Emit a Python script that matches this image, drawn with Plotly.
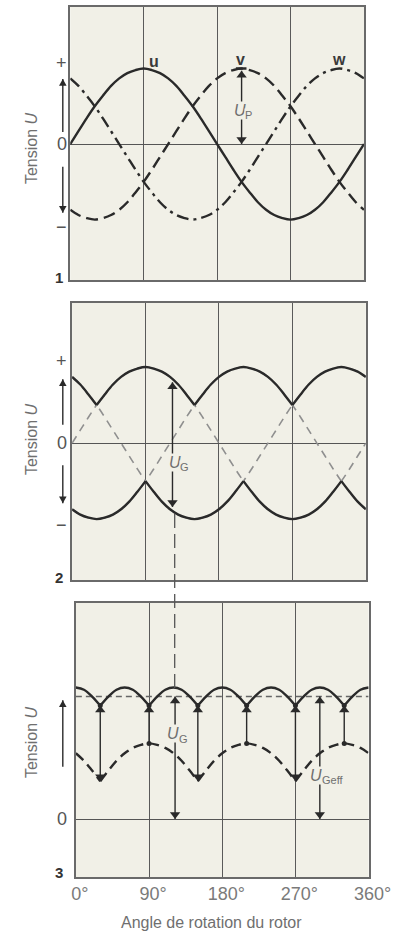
import plotly.graph_objects as go

# Rotor angle (degrees) and the three phase voltages, per unit of peak value
angles = [0, 10, 20, 30, 40, 50, 60, 70, 80, 90, 100, 110, 120, 130, 140, 150, 160, 170, 180,
          190, 200, 210, 220, 230, 240, 250, 260, 270, 280, 290, 300, 310, 320, 330, 340, 350, 360]
phase_u = [0.00, 0.17, 0.34, 0.50, 0.64, 0.77, 0.87, 0.94, 0.98, 1.00, 0.98, 0.94, 0.87, 0.77,
           0.64, 0.50, 0.34, 0.17, 0.00, -0.17, -0.34, -0.50, -0.64, -0.77, -0.87, -0.94, -0.98,
           -1.00, -0.98, -0.94, -0.87, -0.77, -0.64, -0.50, -0.34, -0.17, 0.00]
phase_v = [-0.87, -0.94, -0.98, -1.00, -0.98, -0.94, -0.87, -0.77, -0.64, -0.50, -0.34, -0.17,
           0.00, 0.17, 0.34, 0.50, 0.64, 0.77, 0.87, 0.94, 0.98, 1.00, 0.98, 0.94, 0.87, 0.77,
           0.64, 0.50, 0.34, 0.17, 0.00, -0.17, -0.34, -0.50, -0.64, -0.77, -0.87]
phase_w = [0.87, 0.77, 0.64, 0.50, 0.34, 0.17, 0.00, -0.17, -0.34, -0.50, -0.64, -0.77, -0.87,
           -0.94, -0.98, -1.00, -0.98, -0.94, -0.87, -0.77, -0.64, -0.50, -0.34, -0.17, 0.00,
           0.17, 0.34, 0.50, 0.64, 0.77, 0.87, 0.94, 0.98, 1.00, 0.98, 0.94, 0.87]
u_geff_level = 1.62
tick_vals = [0, 90, 180, 270, 360]
tick_text = ["0°", "90°", "180°", "270°", "360°"]

# Derived curves: star-point envelopes and the bridge-rectified voltage
upper = [max(a, b, c) for a, b, c in zip(phase_u, phase_v, phase_w)]
lower = [min(a, b, c) for a, b, c in zip(phase_u, phase_v, phase_w)]
rectified = [hi - lo for hi, lo in zip(upper, lower)]

upper_cusps = [30, 150, 270]
lower_cusps = [90, 210, 330]
all_cusps = [30, 90, 150, 210, 270, 330]

W, H = 414, 931
INK = "#2a2a2a"
GREY_TXT = "#6f6f6f"
PLOT_BG = "#f1f0e7"
FONT = "Liberation Sans, Arial, sans-serif"
HEAD = 9  # arrowhead marker size (px)

# Panel frames in pixels: (left, right, top, bottom) and value range
frames = {
    "1": dict(l=70, r=385, t=7, b=280, yr=[-1.80, 1.815]),
    "2": dict(l=72, r=387, t=303, b=580, yr=[-1.80, 1.842]),
    "3": dict(l=76, r=390, t=603, b=877, yr=[-0.767, 2.857]),
}
axis_ids = {"1": ("x", "y"), "2": ("x2", "y2"), "3": ("x3", "y3")}


def px_x(p):
    return p / W


def px_y(p):
    return 1 - p / H


def unit_px(panel):
    f = frames[panel]
    return (f["b"] - f["t"]) / (f["yr"][1] - f["yr"][0])


def split_at(xs, ys, breaks):
    """Insert gaps at cusp angles so each arc is smoothed on its own."""
    ox, oy = [], []
    for x, y in zip(xs, ys):
        ox.append(x)
        oy.append(y)
        if x in breaks and x not in (xs[0], xs[-1]):
            ox += [None, x]
            oy += [None, y]
    return ox, oy


fig = go.Figure()
shapes = []
annotations = []


def line(panel, x, y, color=INK, width=2.4, dash="solid", shape="spline"):
    xa, ya = axis_ids[panel]
    fig.add_trace(go.Scatter(x=x, y=y, xaxis=xa, yaxis=ya, mode="lines",
                             line=dict(color=color, width=width, dash=dash, shape=shape),
                             hoverinfo="skip", connectgaps=False))


def arrow(panel, x, y_from, y_to, heads=("end",)):
    """Vertical arrow: shaft as a shape, heads as triangle markers with tips on the ends."""
    xa, ya = axis_ids[panel]
    shapes.append(dict(type="line", xref=xa, yref=ya, x0=x, x1=x, y0=y_from, y1=y_to,
                       line=dict(color=INK, width=1.4)))
    off = (HEAD / 2) / unit_px(panel)
    hx, hy, sym = [], [], []
    for h in heads:
        tip = y_to if h == "end" else y_from
        other = y_from if h == "end" else y_to
        up = tip > other
        hx.append(x)
        hy.append(tip - off if up else tip + off)
        sym.append("triangle-up" if up else "triangle-down")
    fig.add_trace(go.Scatter(x=hx, y=hy, xaxis=xa, yaxis=ya, mode="markers",
                             hoverinfo="skip", cliponaxis=False,
                             marker=dict(symbol=sym, size=HEAD, color=INK, line_width=0)))


def side_arrow(panel, y_tip, y_tail):
    """Arrow drawn left of the frame along the value scale."""
    xa, ya = axis_ids[panel]
    x = px_x(62)
    shapes.append(dict(type="line", xref="paper", yref=ya, x0=x, x1=x, y0=y_tail, y1=y_tip,
                       line=dict(color=INK, width=1.4)))
    hh = HEAD * 0.75 / unit_px(panel)
    hw = (HEAD * 0.45) / W
    base = y_tip - hh if y_tip > y_tail else y_tip + hh
    shapes.append(dict(type="path", xref="paper", yref=ya, fillcolor=INK, line_width=0,
                       path=f"M {x - hw},{base} L {x + hw},{base} L {x},{y_tip} Z"))


def text(xref, yref, x, y, s, size=15, color=GREY_TXT, bg=None, angle=0, style="normal",
         weight="normal", xanchor="center", xshift=0, yshift=0):
    d = dict(xref=xref, yref=yref, x=x, y=y, text=s, showarrow=False, textangle=angle,
             font=dict(size=size, color=color, family=FONT, style=style, weight=weight),
             xanchor=xanchor, yanchor="middle", borderpad=0, xshift=xshift, yshift=yshift)
    if bg:
        d["bgcolor"] = bg
    annotations.append(d)


def symbol_label(xref, yref, x, y, sub, size=16):
    """Italic U with a smaller upright index, centred on (x, y)."""
    sub_size = round(size * 0.68)
    w_main = size * 0.72
    w_sub = len(sub) * sub_size * 0.58
    left = -(w_main + w_sub) / 2
    text(xref, yref, x, y, "U", size=size, bg=PLOT_BG, style="italic", xanchor="left",
         xshift=left)
    text(xref, yref, x, y, sub, size=sub_size, bg=PLOT_BG, xanchor="left",
         xshift=left + w_main, yshift=-5)


# ---- Panel 1: three phase voltages
line("1", angles, phase_v, dash="12px,6px")
line("1", angles, phase_w, dash="12px,5px,3px,5px")
line("1", angles, phase_u)

side_arrow("1", 0.86, 0.16)
side_arrow("1", -0.91, -0.30)
arrow("1", 210, 0.0, 0.97, heads=("start", "end"))
shapes.append(dict(type="line", xref="x", yref="y", x0=203, x1=216, y0=1.0, y1=1.0,
                   line=dict(color=INK, width=2.5)))
symbol_label("x", "y", 210, 0.45, "P")
text("x", "y", 103, 1.10, "u", size=16, color="#3a3a3a", weight="bold")
text("x", "y", 209, 1.12, "v", size=16, color="#3a3a3a", weight="bold")
text("x", "y", 329, 1.12, "w", size=16, color="#3a3a3a", weight="bold")

# ---- Panel 2: phases (dashed) with positive/negative envelopes
for ph in (phase_u, phase_v, phase_w):
    line("2", angles, ph, color="#8f8f8f", width=1.6, dash="8px,6px")
ux, uy = split_at(angles, upper, upper_cusps)
line("2", ux, uy)
lx, ly = split_at(angles, lower, lower_cusps)
line("2", lx, ly)

side_arrow("2", 0.84, 0.24)
side_arrow("2", -0.79, -0.29)
arrow("2", 123, -0.84, 0.80, heads=("start", "end"))
symbol_label("x2", "y2", 128, -0.25, "G")

# Connector carrying the panel-2 span down into panel 3
shapes.append(dict(type="line", xref="paper", yref="paper", x0=px_x(182), x1=px_x(182),
                   y0=px_y(514), y1=px_y(690),
                   line=dict(color="#555555", width=1.3, dash="14px,6px")))

# ---- Panel 3: rectified voltage, star-point envelope and mean value
line("3", [0, 360], [u_geff_level, u_geff_level], color="#666666", width=1.5,
     dash="6px,4px", shape="linear")
mx, my = split_at(angles, upper, upper_cusps)
line("3", mx, my, dash="10px,6px")
rx, ry = split_at(angles, rectified, all_cusps)
line("3", rx, ry)

cusp_vals = [rectified[angles.index(a)] for a in all_cusps]
peak_vals = [upper[angles.index(a)] for a in lower_cusps]
fig.add_trace(go.Scatter(x=all_cusps + lower_cusps, y=cusp_vals + peak_vals, xaxis="x3",
                         yaxis="y3", mode="markers", hoverinfo="skip",
                         marker=dict(color=INK, size=5)))

for a in all_cusps:
    i = angles.index(a)
    heads = ("start", "end") if a in upper_cusps else ("end",)
    arrow("3", a, upper[i], rectified[i], heads=heads)
arrow("3", 122, 0.0, u_geff_level, heads=("start", "end"))
symbol_label("x3", "y3", 122, 1.13, "G")
arrow("3", 300, 0.0, u_geff_level, heads=("start", "end"))
symbol_label("x3", "y3", 310, 0.58, "Geff")
side_arrow("3", 1.57, 0.69)

# Left-hand scale marks and panel numbers
for py, s in ((63, "+"), (144, "0"), (227, "−"), (361, "+"), (443, "0"), (525, "−"),
              (819, "0")):
    text("paper", "paper", px_x(61), px_y(py), s, size=18, color="#555555")
for py, s in ((277, "1"), (577, "2"), (872, "3")):
    text("paper", "paper", px_x(58), px_y(py), s, size=15, color="#333333", weight="bold")

# Rotated axis titles
for py in (148, 439, 742):
    text("paper", "paper", px_x(28), px_y(py), "Tension <i>U</i>", size=16, angle=-90)

text("paper", "paper", px_x(222), px_y(922), "Angle de rotation du rotor", size=16)

xcommon = dict(range=[0, 360], tickvals=tick_vals, showgrid=True, gridcolor="#5a5a5a",
               gridwidth=1.2, showline=True, mirror=True, linecolor="#6a6a6a", linewidth=1.5,
               zeroline=False, ticks="", showticklabels=False, fixedrange=True)
ycommon = dict(showgrid=False, zeroline=True, zerolinecolor="#555555", zerolinewidth=1.3,
               showline=True, mirror=True, linecolor="#6a6a6a", linewidth=1.5,
               showticklabels=False, ticks="", fixedrange=True)

layout_axes = {}
for key, (xa, ya) in axis_ids.items():
    f = frames[key]
    xname = "xaxis" + xa[1:]
    yname = "yaxis" + ya[1:]
    layout_axes[xname] = dict(xcommon, domain=[px_x(f["l"]), px_x(f["r"])], anchor=ya)
    layout_axes[yname] = dict(ycommon, domain=[px_y(f["b"]), px_y(f["t"])], range=f["yr"],
                              anchor=xa)
layout_axes["xaxis3"].update(showticklabels=True, ticktext=tick_text, ticklabelshift=4,
                             tickfont=dict(size=18, color="#7a7a7a", family=FONT))

fig.update_layout(
    width=W, height=H, margin=dict(l=0, r=0, t=0, b=0),
    paper_bgcolor="white", plot_bgcolor=PLOT_BG, showlegend=False,
    annotations=annotations, shapes=shapes, **layout_axes,
)

fig.write_html("out.html")
